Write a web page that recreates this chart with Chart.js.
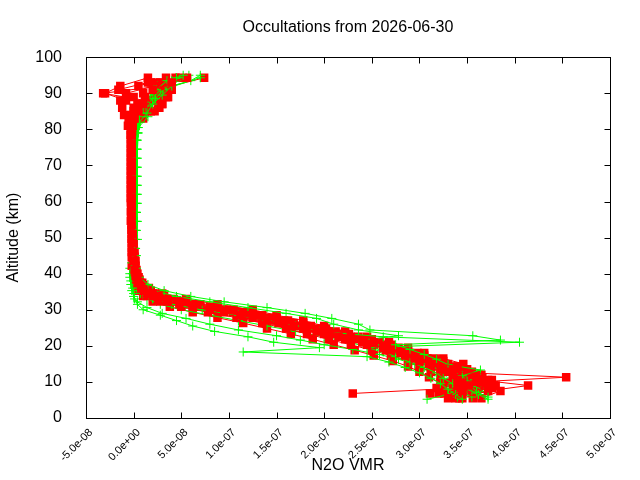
<!DOCTYPE html>
<html>
<head>
<meta charset="utf-8">
<title>Occultations from 2026-06-30</title>
<script src="https://cdn.jsdelivr.net/npm/chart.js@4.4.1/dist/chart.umd.min.js"></script>
<style>
  html, body { margin: 0; padding: 0; background: #fff; }
  canvas { display: block; }
</style>
</head>
<body>
<canvas id="chart" width="640" height="480"></canvas>
<script>
// N2O VMR profiles, values in ppbv, altitudes in km
const PPB = 1e-9;

const xTickValues = [-5e-8, 0, 5e-8, 1e-7, 1.5e-7, 2e-7, 2.5e-7, 3e-7, 3.5e-7, 4e-7, 4.5e-7, 5e-7];
const xTickLabels = ['-5.0e-08', '0.0e+00', '5.0e-08', '1.0e-07', '1.5e-07', '2.0e-07',
  '2.5e-07', '3.0e-07', '3.5e-07', '4.0e-07', '4.5e-07', '5.0e-07'];

// altitude grids (km)
const altR1 = [5.5, 7.5, 9, 10.5, 12, 13.5, 15, 16.5, 18, 19.5, 21, 22.5, 24, 25.5, 27, 28.5, 30, 31.5, 33, 34.5,
  36, 37.5, 39, 41, 43.5, 46, 48.5, 51, 53.5, 56, 58.5, 61, 63.5, 66, 68.5, 71, 73.5, 76, 78.5, 81, 83, 85, 87, 89, 91, 93];
const altR2 = [6.8, 8.3, 9.8, 11.3, 12.8, 14.3, 15.8, 17.3, 18.8, 20.3, 21.8, 23.3, 24.8, 26.3, 27.8, 29.3, 30.8, 32.3, 33.8, 35.3,
  36.8, 38.3, 40, 42.2, 44.7, 47.2, 49.7, 52.2, 54.7, 57.2, 59.7, 62.2, 64.7, 67.2, 69.7, 72.2, 74.7, 77.2, 79.7, 82, 84, 86, 88, 90, 92, 94.3];
const altG1 = [5.2, 6.5, 8, 9.5, 11, 12.5, 14, 15.5, 17, 18.3, 19.5, 21, 22.5, 24, 25.5, 27, 28.5, 30, 31.5, 33,
  34.5, 36, 38, 40, 43, 47, 52, 57, 62, 67, 72, 77, 80.5, 83.5, 86, 88.5, 91, 93.5, 95];
const altG2 = [5.8, 7.2, 8.7, 10.2, 11.7, 13.3, 14.8, 16.3, 17.6, 19, 20.3, 21.6, 22.8, 24.4, 26, 27.6, 29, 30.6, 32.2, 33.7,
  35.3, 37, 39, 41.5, 45, 49.5, 54.5, 59.5, 64.5, 69.5, 74.5, 79, 82, 84.5, 87, 89.5, 92, 94.3];

// red series (squares): odd profiles on altR1, even profiles on altR2
const red1 = [330, 345, 352, 340, 335, 322, 310, 295, 280, 262, 240, 215, 192, 168, 140, 112, 80, 48, 26, 14, 8, 5, 3,
  1, 0, -1, -1, -1, -2, -2, -2, -2, -2, -2, -2, -2, -2, -2, -2, -1, 1, 5, 10, 12, 20, 40];
const red3 = [345, 372, 414, 365, 350, 335, 322, 308, 290, 272, 252, 228, 205, 182, 158, 130, 98, 62, 35, 20, 12, 7, 5,
  3, 2, 1, 0, -1, -1, -1, -1, -1, -1, -1, -1, -1, -1, -1, -1, 0, 6, 18, 30, 36, 40, 34];
const red5 = [356, 346, 335, 360, 352, 340, 312, 300, 283, 262, 242, 220, 198, 175, 150, 122, 90, 55, 30, 16, 9, 5, 2,
  0, -1, -2, -2, -2, -2, -2, -2, -3, -3, -3, -3, -3, -3, -3, -3, -3, -2, 2, 4, 0, -16, 15];
const red7 = [342, 360, 380, 376, 362, 346, 330, 316, 298, 278, 258, 236, 212, 186, 162, 135, 105, 70, 42, 22, 12, 6, 3,
  1, 0, -1, -1, -1, -1, -2, -2, -2, -2, -2, -2, -2, -2, -2, -3, -6, -5, 0, 15, 25, 35, 24];
const red9 = [365, 385, 378, 372, 365, 350, 346, 325, 305, 288, 268, 245, 222, 200, 178, 150, 125, 88, 55, 30, 16, 9, 5,
  2, 1, 0, -1, -1, -1, -2, -2, -2, -2, -2, -2, -2, -2, -2, -2, -1, 5, 14, 26, 34, 38, 28];
const red11 = [338, 355, 366, 352, 345, 330, 318, 302, 286, 268, 248, 224, 200, 176, 148, 118, 86, 52, 28, 15, 9, 5, 3,
  1, 0, 0, -1, -1, -1, -1, -1, -1, -1, -1, -1, -1, -1, -1, 0, 2, 10, 22, 30, 36, 26, 18];
const red2 = [230, 340, 345, 454, 330, 340, 300, 285, 265, 245, 222, 200, 178, 152, 125, 95, 62, 36, 20, 11, 6, 4, 2,
  0, -1, -1, -1, -2, -2, -2, -2, -2, -2, -2, -2, -2, -2, -2, -2, 0, 4, 8, 12, -32, 28, 56];
const red4 = [311, 325, 330, 322, 312, 300, 288, 270, 250, 228, 205, 182, 160, 135, 108, 78, 50, 28, 14, 8, 4, 2, 0,
  -2, -2, -2, -2, -2, -3, -3, -3, -3, -3, -3, -3, -3, -3, -3, -3, -3, -2, 0, -8, -30, -14, 15];
const red6 = [340, 376, 360, 345, 335, 330, 320, 298, 280, 262, 240, 215, 192, 168, 142, 112, 80, 48, 26, 15, 9, 6, 4,
  2, 1, 0, -1, -1, -1, -1, -1, -1, -1, -1, -1, -1, -1, -1, -1, 0, 6, 27, 14, 22, 40, 74];
const red8 = [335, 350, 372, 366, 355, 338, 325, 305, 288, 270, 250, 226, 202, 178, 150, 120, 88, 56, 32, 18, 10, 6, 3,
  1, 0, -1, -1, -1, -1, -2, -2, -2, -2, -2, -2, -2, -2, -2, -2, 2, 8, 12, 20, 10, 5, 34];
const red10 = [320, 318, 322, 310, 300, 288, 272, 252, 232, 210, 188, 165, 140, 115, 88, 62, 38, 20, 10, 5, 2, 1, 0,
  0, -1, -1, -2, -2, -2, -2, -2, -2, -2, -2, -2, -2, -2, -2, -1, -5, -10, -12, -14, -8, 22, 48];
const red12 = [326, 362, 366, 338, 345, 318, 306, 290, 272, 252, 232, 208, 185, 160, 134, 104, 70, 42, 22, 12, 7, 4, 2,
  0, 0, -1, -1, -1, -1, -2, -2, -2, -2, -2, -2, -2, -2, -2, -1, 0, 4, 16, 28, 34, 38, 44];

// green series (plus signs): G1,G3,G5 on altG1, G2,G4,G6 on altG2
const green1 = [345, 338, 330, 322, 312, 300, 285, 268, 245, 115, 195, 147, 120, 85, 62, 45, 28, 10, 4, 1,
  0, -1, -3, -4, -2, 1, 2, 3, 3, 3, 3, 3, 4, 6, 10, 15, 24, 35, 52];
const green3 = [308, 330, 340, 335, 325, 318, 305, 290, 275, 262, 245, 405, 262, 195, 170, 140, 110, 72, 40, 20,
  10, 5, 2, 0, 1, 2, 3, 3, 4, 4, 4, 4, 3, 8, 12, 20, 28, 40, 58];
const green5 = [372, 362, 350, 345, 338, 328, 315, 300, 285, 268, 250, 225, 200, 170, 140, 110, 80, 50, 28, 14,
  7, 3, 0, -1, 0, 2, 2, 2, 2, 2, 2, 3, 5, 15, 18, 23, 31, 60, 70];
const green2 = [372, 360, 355, 350, 345, 364, 330, 318, 305, 290, 275, 385, 356, 248, 236, 208, 180, 140, 95, 60,
  32, 15, 6, 3, 2, 2, 3, 3, 3, 3, 3, 4, 6, 14, 20, 30, 40, 70];
const green4 = [355, 345, 338, 330, 320, 308, 295, 278, 258, 230, 200, 175, 150, 110, 80, 55, 30, 14, 4, 0,
  -2, -3, -4, -4, -1, 1, 2, 2, 2, 2, 3, 4, 5, 8, 12, 18, 25, 45];
const green6 = [340, 368, 360, 355, 350, 340, 322, 305, 290, 272, 255, 240, 278, 236, 210, 192, 160, 120, 80, 45,
  20, 8, 4, 2, 3, 4, 4, 4, 4, 4, 4, 5, 7, 10, 16, 22, 35, 55];

const RED = '#ff0000';
const GREEN = '#00ff00';
const TICK = 6;

function toPoints(alts, vals) {
  return vals.map((v, i) => ({ x: v * PPB, y: alts[i] }));
}

function redSet(alts, vals) {
  return { data: toPoints(alts, vals), borderColor: RED, backgroundColor: RED, borderWidth: 1,
    pointStyle: 'rect', pointRadius: 6, pointBorderWidth: 0, pointBackgroundColor: RED, showLine: true };
}
function greenSet(alts, vals) {
  return { data: toPoints(alts, vals), borderColor: GREEN, backgroundColor: GREEN, borderWidth: 1,
    pointStyle: 'cross', pointRadius: 4.5, pointBorderWidth: 1, showLine: true };
}

// inward ticks on all four sides plus the frame, gnuplot style
const frameTicks = {
  id: 'frameTicks',
  afterDraw(chart) {
    const { ctx, chartArea: a, scales: { x, y } } = chart;
    const l = Math.round(a.left) + 0.5, r = Math.round(a.right) + 0.5;
    const t = Math.round(a.top) + 0.5, b = Math.round(a.bottom) + 0.5;
    ctx.save();
    ctx.strokeStyle = '#000';
    ctx.lineWidth = 1;
    ctx.beginPath();
    x.ticks.forEach((tk) => {
      const px = Math.round(x.getPixelForValue(tk.value)) + 0.5;
      ctx.moveTo(px, b); ctx.lineTo(px, b - TICK);
      ctx.moveTo(px, t); ctx.lineTo(px, t + TICK);
    });
    y.ticks.forEach((tk) => {
      const py = Math.round(y.getPixelForValue(tk.value)) + 0.5;
      ctx.moveTo(l, py); ctx.lineTo(l + TICK, py);
      ctx.moveTo(r, py); ctx.lineTo(r - TICK, py);
    });
    ctx.stroke();
    ctx.strokeRect(l, t, r - l, b - t);
    ctx.restore();
  }
};

Chart.defaults.color = '#000';
Chart.defaults.font.family = '"Liberation Sans", Arial, sans-serif';

new Chart(document.getElementById('chart'), {
  type: 'scatter',
  data: {
    datasets: [
      redSet(altR1, red1), greenSet(altG1, green1),
      redSet(altR2, red2), greenSet(altG2, green2),
      redSet(altR1, red3), greenSet(altG1, green3),
      redSet(altR2, red4), greenSet(altG2, green4),
      redSet(altR1, red5), greenSet(altG1, green5),
      redSet(altR2, red6), greenSet(altG2, green6),
      redSet(altR1, red7), redSet(altR2, red8),
      redSet(altR1, red9), redSet(altR2, red10),
      redSet(altR1, red11), redSet(altR2, red12),
    ],
  },
  options: {
    responsive: false,
    animation: false,
    devicePixelRatio: 1,
    layout: { padding: { left: 0, right: 30, top: 0, bottom: 0 } },
    plugins: {
      legend: { display: false },
      tooltip: { enabled: false },
      title: {
        display: true, text: 'Occultations from 2026-06-30', fullSize: false,
        font: { size: 16, weight: 'normal' }, padding: { top: 18, bottom: 20 },
      },
    },
    scales: {
      x: {
        type: 'linear', min: -5e-8, max: 5e-7,
        grid: { display: false }, border: { display: false },
        afterBuildTicks: (s) => { s.ticks = xTickValues.map((v) => ({ value: v })); },
        afterFit: (s) => { s.height = 62; },
        ticks: {
          autoSkip: false, minRotation: 45, maxRotation: 45, padding: 0, labelOffset: 5,
          font: { size: 11 },
          callback: (v, i) => xTickLabels[i],
        },
        title: { display: true, text: 'N2O VMR', font: { size: 16 }, padding: { top: 0, bottom: 5 } },
      },
      y: {
        type: 'linear', min: 0, max: 100,
        grid: { display: false }, border: { display: false },
        afterFit: (s) => { s.width = 86; },
        ticks: { stepSize: 10, padding: 16, font: { size: 16 } },
        title: { display: true, text: 'Altitude (km)', font: { size: 16 }, padding: { top: 4, bottom: 0 } },
      },
    },
  },
  plugins: [frameTicks],
});
</script>
</body>
</html>
